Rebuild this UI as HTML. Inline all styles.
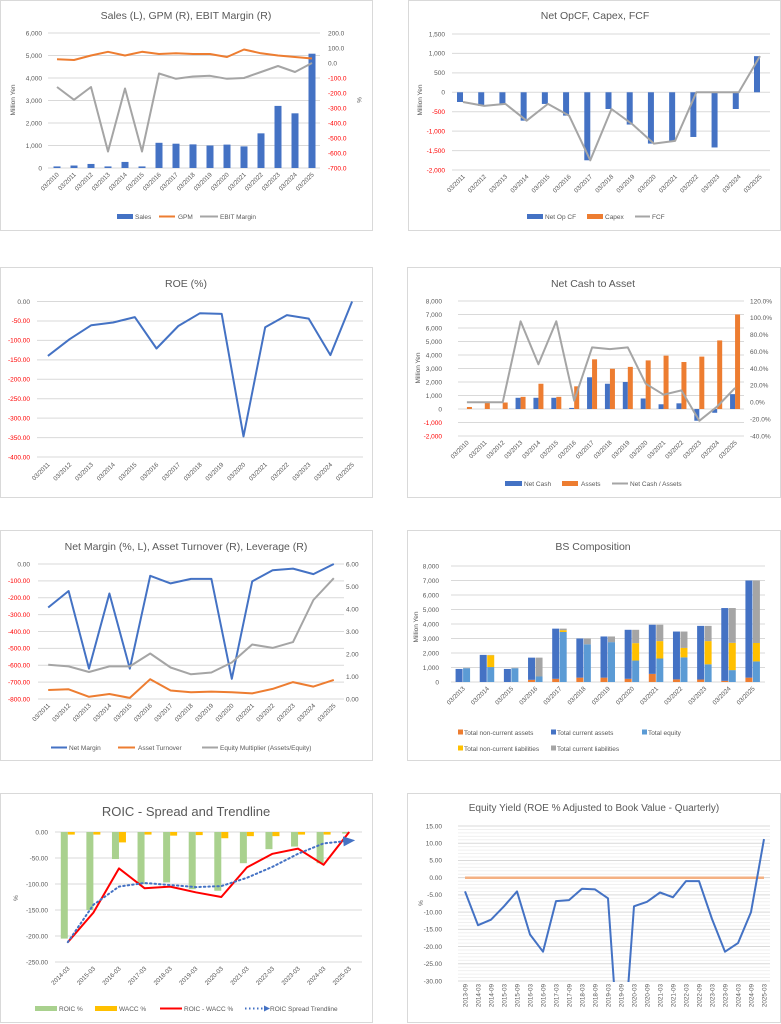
<!DOCTYPE html>
<html><head><meta charset="utf-8">
<style>
html,body{margin:0;padding:0;background:#fff;}
body{width:781px;height:1024px;overflow:hidden;font-family:"Liberation Sans",sans-serif;}
svg{display:block;}
svg text{font-family:"Liberation Sans",sans-serif;}
</style></head>
<body>
<svg id="charts" width="781" height="1024" viewBox="0 0 781 1024" xmlns="http://www.w3.org/2000/svg">
<defs>
<marker id="arrowhead" markerWidth="6" markerHeight="6" refX="3" refY="3" orient="auto" markerUnits="userSpaceOnUse" viewBox="0 0 6 6"><path d="M0,0 L6,3 L0,6 z" fill="#4472C4"/></marker>
<marker id="arrowhead2" markerWidth="12" markerHeight="10" refX="6" refY="5" orient="auto" markerUnits="userSpaceOnUse" viewBox="0 0 12 10"><path d="M0,0 L12,5 L0,10 z" fill="#4472C4"/></marker>
<clipPath id="eyclip"><rect x="455" y="824" width="320" height="158"/></clipPath>
</defs>
</svg>
<script>
// ---------- data ----------
const c1Cats=['03/2010','03/2011','03/2012','03/2013','03/2014','03/2015','03/2016','03/2017','03/2018','03/2019','03/2020','03/2021','03/2022','03/2023','03/2024','03/2025'];
const c1Sales=[70,110,180,70,270,70,1120,1080,1050,1000,1040,960,1540,2760,2430,5080];
const c1Gpm=[25,20,50,75,50,75,60,65,60,60,40,90,65,50,40,30];
const c1Ebit=[-160,-245,-160,-590,-170,-590,-70,-105,-90,-85,-105,-100,-60,-20,-60,0];
const c1LeftTicks=[0,1000,2000,3000,4000,5000,6000];
const c1RightTicks=[200,100,0,-100,-200,-300,-400,-500,-600,-700];

const c2Cats=['03/2011','03/2012','03/2013','03/2014','03/2015','03/2016','03/2017','03/2018','03/2019','03/2020','03/2021','03/2022','03/2023','03/2024','03/2025'];
const c2OpCF=[-250,-350,-300,-730,-300,-600,-1750,-430,-830,-1320,-1250,-1150,-1420,-430,930];
const c2Capex=[0,0,0,0,0,0,0,0,0,0,0,0,0,0,0];
const c2FCF=[-250,-350,-300,-730,-300,-600,-1750,-430,-830,-1320,-1250,0,0,0,930];
const c2Ticks=[1500,1000,500,0,-500,-1000,-1500,-2000];

const roeCats=['03/2011','03/2012','03/2013','03/2014','03/2015','03/2016','03/2017','03/2018','03/2019','03/2020','03/2021','03/2022','03/2023','03/2024','03/2025'];
const roeVals=[-140,-97,-61,-54,-40,-121,-63,-30,-32,-347,-66,-35,-44,-138,0];
const roeTicks=[0,-50,-100,-150,-200,-250,-300,-350,-400];

const ncCats=['03/2010','03/2011','03/2012','03/2013','03/2014','03/2015','03/2016','03/2017','03/2018','03/2019','03/2020','03/2021','03/2022','03/2023','03/2024','03/2025'];
const ncNetCash=[0,0,0,830,830,830,80,2350,1870,2000,780,350,420,-870,-280,1100];
const ncAssets=[150,450,480,900,1870,900,1680,3680,2980,3120,3600,3950,3480,3880,5080,7000];
const ncRatio=[0,0,0,96,45,96,2,65,63,65,22,9,14,-22,-5,17];
const ncLeftTicks=[8000,7000,6000,5000,4000,3000,2000,1000,0,-1000,-2000];
const ncRightTicks=[120,100,80,60,40,20,0,-20,-40];

const c5Cats=['03/2011','03/2012','03/2013','03/2014','03/2015','03/2016','03/2017','03/2018','03/2019','03/2020','03/2021','03/2022','03/2023','03/2024','03/2025'];
const c5NetMargin=[-258,-160,-620,-175,-620,-70,-115,-88,-88,-680,-103,-37,-27,-60,0];
const c5Turnover=[0.40,0.43,0.10,0.22,0.05,0.88,0.38,0.30,0.33,0.30,0.25,0.45,0.75,0.55,0.85];
const c5EqMult=[1.52,1.45,1.20,1.45,1.45,2.02,1.40,1.10,1.18,1.62,2.42,2.27,2.53,4.40,5.37];
const c5LeftTicks=[0,-100,-200,-300,-400,-500,-600,-700,-800];
const c5RightTicks=[6,5,4,3,2,1,0];

const bsCats=['03/2013','03/2014','03/2015','03/2016','03/2017','03/2018','03/2019','03/2020','03/2021','03/2022','03/2023','03/2024','03/2025'];
const bsNonCurAssets=[0,0,0,150,220,300,300,220,560,180,170,80,300];
const bsCurAssets=[900,1870,900,1530,3460,2700,2840,3380,3390,3300,3700,5020,6700];
const bsEquity=[950,1030,950,380,3450,2600,2750,1480,1620,1700,1220,820,1420];
const bsNonCurLiab=[0,820,0,0,120,0,0,1200,1200,650,1600,1880,1270];
const bsCurLiab=[30,20,30,1300,110,400,390,920,1130,1130,1050,2400,4310];
const bsTicks=[0,1000,2000,3000,4000,5000,6000,7000,8000];

const roicCats=['2014-03','2015-03','2016-03','2017-03','2018-03','2019-03','2020-03','2021-03','2022-03','2023-03','2024-03','2025-03'];
const roicVals=[-205,-150,-52,-100,-97,-110,-113,-60,-33,-28,-60,-3];
const waccVals=[-5,-5,-20,-5,-7,-6,-12,-8,-8,-5,-5,0];
const spreadVals=[-212,-155,-70,-108,-105,-116,-125,-68,-42,-32,-63,0];
const trendVals=[-212,-140,-105,-98,-102,-106,-104,-88,-67,-42,-22,-17];
const roicTicks=[0,-50,-100,-150,-200,-250];

const eyCats=['2013-09','2014-03','2014-09','2015-03','2015-09','2016-03','2016-09','2017-03','2017-09','2018-03','2018-09','2019-03','2019-09','2020-03','2020-09','2021-03','2021-09','2022-03','2022-09','2023-03','2023-09','2024-03','2024-09','2025-03'];
const eyVals=[-4,-13.8,-12.2,-8.3,-4,-16.5,-21.5,-6.8,-6.5,-3.2,-3.4,-6,-60,-8.3,-7,-4.3,-5.7,-1,-1,-12,-21.5,-19,-10,11.2];
const eyZero=[0,0,0,0,0,0,0,0,0,0,0,0,0,0,0,0,0,0,0,0,0,0,0,0];
const eyTicks=[15,10,5,0,-5,-10,-15,-20,-25,-30];

// ---------- helpers ----------
const NS='http://www.w3.org/2000/svg';
const svg=document.getElementById('charts');
const GRAY='#595959',GRID='#D9D9D9',BLUE='#4472C4',ORANGE='#ED7D31',LGRAY='#A5A5A5',YEL='#FFC000',LBLUE='#5B9BD5',GREEN='#A9D18E',RED='#FF0000';
function mk(tag,attrs,parent){const e=document.createElementNS(NS,tag);for(const k in attrs)e.setAttribute(k,attrs[k]);(parent||svg).appendChild(e);return e;}
function txt(x,y,s,attrs,parent){const e=mk('text',Object.assign({x:x,y:y,'font-size':6.5,fill:GRAY},attrs||{}),parent);e.textContent=s;return e;}
function lin(d0,d1,p0,p1){return v=>p0+(v-d0)*(p1-p0)/(d1-d0);}
function band(n,x0,x1){const w=(x1-x0)/n;const f=i=>x0+(i+0.5)*w;f.w=w;return f;}
function comma(v){const s=Math.abs(v).toString().replace(/\B(?=(\d{3})+(?!\d))/g,',');return (v<0?'-':'')+s;}
function group(name,parent){const g=mk('g',{},parent);return g;}
function panel(name,x,y,w,h,title,tx,ty,fs){
  const g=group(name);
  const r=mk('rect',{x:x+0.5,y:y+0.5,width:w,height:h,fill:'#fff',stroke:GRID,'stroke-width':1},g);
  
  
  const t=txt(tx,ty,title,{'font-size':fs,'text-anchor':'middle'},g);
  
  
  return g;
}
function grid(g,ticks,yf,x0,x1,color){
  ticks.forEach(v=>{const l=mk('line',{x1:x0,x2:x1,y1:yf(v),y2:yf(v),stroke:color||GRID,'stroke-width':1},g);
  
  });
}
function yLabels(g,ticks,yf,x,anchor,fmt,redNeg,name){
  ticks.forEach(v=>{const t=txt(x,yf(v)+2.3,fmt(v),{'text-anchor':anchor,fill:(redNeg&&v<0)?RED:GRAY},g);
  
  });
}
function catLabels(g,cats,xf,y,rot){
  cats.forEach((s,i)=>{const x=xf(i)+2.3;const t=txt(x,y,s,{'text-anchor':'end','font-size':6.3,transform:'rotate('+rot+' '+x+' '+y+')'},g);
  
  });
}
function axisTitle(g,x,y,s,rot){const t=txt(x,y,s,{'text-anchor':'middle',transform:'rotate('+rot+' '+x+' '+y+')'},g);
  
  return t;}
function bars(g,vals,xf,yf,off,w,color,name){
  vals.forEach((v,i)=>{const y0=yf(0),y1=yf(v);const r=mk('rect',{x:xf(i)+off,y:Math.min(y0,y1),width:w,height:Math.max(Math.abs(y1-y0),0),fill:color},g);
  
  });
}
function stack(g,series,colors,names,xf,yf,off,w){
  const n=series[0].length;
  for(let i=0;i<n;i++){let acc=0;series.forEach((s,k)=>{const y0=yf(acc),y1=yf(acc+s[i]);acc+=s[i];
    const r=mk('rect',{x:xf(i)+off,y:y1,width:w,height:Math.max(y0-y1,0),fill:colors[k]},g);
    
    });}
}
function line(g,vals,xf,yf,color,name,extra){
  const d=vals.map((v,i)=>(i?'L':'M')+xf(i).toFixed(1)+','+yf(v).toFixed(1)).join(' ');
  const p=mk('path',Object.assign({d:d,fill:'none',stroke:color,'stroke-width':2,'stroke-linejoin':'round'},extra||{}),g);
  
  return p;
}
function legend(g,items,y){
  items.forEach(it=>{const lg=mk('g',{},g);
    
    
    if(it.type==='box')mk('rect',{x:it.x,y:y-5,width:it.w,height:5,fill:it.c},lg);
    else if(it.type==='sq')mk('rect',{x:it.x,y:y-5.5,width:5,height:5,fill:it.c},lg);
    else if(it.type==='dot'){mk('line',{x1:it.x,x2:it.x+it.w,y1:y-2.5,y2:y-2.5,stroke:it.c,'stroke-width':2,'stroke-dasharray':'1.5,2.5','marker-end':'url(#arrowhead)'},lg);}
    else mk('line',{x1:it.x,x2:it.x+it.w,y1:y-2.5,y2:y-2.5,stroke:it.c,'stroke-width':2},lg);
    txt(it.tx,y,it.label,{},lg);});
}

// ---------- Chart 1 ----------
(function(){
  const g=panel('sales-gpm-ebit-chart',0,0,372,230,'Sales (L), GPM (R), EBIT Margin (R)',186,19,10.5);
  const X=band(c1Cats.length,48.5,320.5),yL=lin(0,6000,168,33),yR=lin(-700,200,168,33);
  grid(g,c1LeftTicks,yL,48,320);
  yLabels(g,c1LeftTicks,yL,42,'end',comma,false,'left-tick-label');
  yLabels(g,c1RightTicks,yR,328,'start',v=>v.toFixed(1),true,'right-tick-label');
  bars(g,c1Sales,X,yL,-3.5,7,BLUE,'sales-bar');
  line(g,c1Gpm,X,yR,ORANGE,'gpm-line');
  line(g,c1Ebit,X,yR,LGRAY,'ebit-margin-line');
  catLabels(g,c1Cats,X,175,-45);
  axisTitle(g,15,100,'Million Yen',-90);
  axisTitle(g,357,100,'%',90);
  legend(g,[{type:'box',x:117,w:16,c:BLUE,tx:135,label:'Sales'},{type:'line',x:159,w:16,c:ORANGE,tx:178,label:'GPM'},{type:'line',x:200,w:18,c:LGRAY,tx:220,label:'EBIT Margin'}],219);
})();

// ---------- Chart 2 ----------
(function(){
  const g=panel('cashflow-chart',408,0,372,230,'Net OpCF, Capex, FCF',595,19,10.5);
  const X=band(c2Cats.length,452.4,770.6),y=lin(-2000,1500,170,34);
  grid(g,c2Ticks,y,452,770);
  yLabels(g,c2Ticks,y,445,'end',comma,true,'y-tick-label');
  bars(g,c2OpCF,X,y,-6,6,BLUE,'net-op-cf-bar');
  bars(g,c2Capex,X,y,0,6,ORANGE,'capex-bar');
  line(g,c2FCF,X,y,LGRAY,'fcf-line');
  catLabels(g,c2Cats,X,177,-45);
  axisTitle(g,422,100,'Million Yen',-90);
  legend(g,[{type:'box',x:527,w:16,c:BLUE,tx:545,label:'Net Op CF'},{type:'box',x:587,w:16,c:ORANGE,tx:605,label:'Capex'},{type:'line',x:635,w:15,c:LGRAY,tx:652,label:'FCF'}],219);
})();

// ---------- ROE ----------
(function(){
  const g=panel('roe-chart',0,267,372,230,'ROE (%)',186,287,10.5);
  const X=band(roeCats.length,37,363),y=lin(-400,0,457,301.5);
  grid(g,roeTicks,y,37,363);
  yLabels(g,roeTicks,y,30,'end',v=>v.toFixed(2),true,'y-tick-label');
  line(g,roeVals,X,y,BLUE,'roe-line');
  catLabels(g,roeCats,X,465,-45);
})();

// ---------- Net cash ----------
(function(){
  const g=panel('net-cash-chart',407,267,373,230,'Net Cash to Asset',593,287,10.5);
  const X=band(ncCats.length,458,744),yL=lin(-2000,8000,436,301),yR=lin(-40,120,436,301);
  grid(g,ncLeftTicks,yL,458,744);
  yLabels(g,ncLeftTicks,yL,442,'end',comma,true,'left-tick-label');
  yLabels(g,ncRightTicks,yR,750,'start',v=>v.toFixed(1)+'%',false,'right-tick-label');
  bars(g,ncNetCash,X,yL,-5,5,BLUE,'net-cash-bar');
  bars(g,ncAssets,X,yL,0,5,ORANGE,'assets-bar');
  line(g,ncRatio,X,yR,LGRAY,'net-cash-ratio-line');
  catLabels(g,ncCats,X,443,-45);
  axisTitle(g,420,368,'Million Yen',-90);
  legend(g,[{type:'box',x:505,w:17,c:BLUE,tx:524,label:'Net Cash'},{type:'box',x:562,w:16,c:ORANGE,tx:581,label:'Assets'},{type:'line',x:612,w:16,c:LGRAY,tx:630,label:'Net Cash / Assets'}],486);
})();

// ---------- Net margin / turnover / leverage ----------
(function(){
  const g=panel('dupont-chart',0,530,372,230,'Net Margin (%, L), Asset Turnover (R), Leverage (R)',186,550,10.5);
  const X=band(c5Cats.length,38,344),yL=lin(-800,0,699,564),yR=lin(0,6,699,564);
  grid(g,c5LeftTicks,yL,38,344);
  yLabels(g,c5LeftTicks,yL,30,'end',v=>v.toFixed(2),true,'left-tick-label');
  yLabels(g,c5RightTicks,yR,346,'start',v=>v.toFixed(2),false,'right-tick-label');
  line(g,c5NetMargin,X,yL,BLUE,'net-margin-line');
  line(g,c5Turnover,X,yR,ORANGE,'asset-turnover-line');
  line(g,c5EqMult,X,yR,LGRAY,'equity-multiplier-line');
  catLabels(g,c5Cats,X,706,-45);
  legend(g,[{type:'line',x:51,w:16,c:BLUE,tx:69,label:'Net Margin'},{type:'line',x:118,w:17,c:ORANGE,tx:138,label:'Asset Turnover'},{type:'line',x:202,w:16,c:LGRAY,tx:220,label:'Equity Multiplier (Assets/Equity)'}],750);
})();

// ---------- BS composition ----------
(function(){
  const g=panel('bs-composition-chart',407,530,373,230,'BS Composition',593,550,10.5);
  const X=band(bsCats.length,451,765),y=lin(0,8000,682,566);
  grid(g,bsTicks,y,451,765);
  yLabels(g,bsTicks,y,439,'end',comma,false,'y-tick-label');
  stack(g,[bsNonCurAssets,bsCurAssets],[ORANGE,BLUE],['non-current-assets-bar','current-assets-bar'],X,y,-7.5,7);
  stack(g,[bsEquity,bsNonCurLiab,bsCurLiab],[LBLUE,YEL,LGRAY],['equity-bar','non-current-liabilities-bar','current-liabilities-bar'],X,y,0,7);
  catLabels(g,bsCats,X,689,-45);
  axisTitle(g,418,627,'Million Yen',-90);
  legend(g,[{type:'sq',x:458,c:ORANGE,tx:464,label:'Total non-current assets'},{type:'sq',x:551,c:BLUE,tx:557,label:'Total current assets'},{type:'sq',x:642,c:LBLUE,tx:648,label:'Total equity'}],735);
  legend(g,[{type:'sq',x:458,c:YEL,tx:464,label:'Total non-current liabilities'},{type:'sq',x:551,c:LGRAY,tx:557,label:'Total current liabilities'}],751);
})();

// ---------- ROIC ----------
(function(){
  const g=panel('roic-chart',0,793,372,229,'ROIC - Spread and Trendline',186,816,13);
  const X=band(roicCats.length,55,362),y=lin(-250,0,962,832);
  grid(g,roicTicks,y,55,362);
  yLabels(g,roicTicks,y,48,'end',v=>v.toFixed(2),false,'y-tick-label');
  bars(g,roicVals,X,y,-7,7,GREEN,'roic-bar');
  bars(g,waccVals,X,y,0,7,YEL,'wacc-bar');
  line(g,spreadVals,X,y,RED,'roic-wacc-spread-line');
  line(g,trendVals,X,y,BLUE,'roic-spread-trendline',{'stroke-dasharray':'1.5,3','stroke-linecap':'round','marker-end':'url(#arrowhead2)'});
  catLabels(g,roicCats,X,969,-45);
  axisTitle(g,18,898,'%',-90);
  legend(g,[{type:'box',x:35,w:22,c:GREEN,tx:59,label:'ROIC %'},{type:'box',x:95,w:22,c:YEL,tx:119,label:'WACC %'},{type:'line',x:160,w:22,c:RED,tx:184,label:'ROIC - WACC %'},{type:'dot',x:245,w:22,c:BLUE,tx:270,label:'ROIC Spread Trendline'}],1011);
})();

// ---------- Equity yield ----------
(function(){
  const g=panel('equity-yield-chart',407,793,373,229,'Equity Yield (ROE % Adjusted to Book Value - Quarterly)',594,811,10);
  const X=band(eyCats.length,458.5,770.5),y=lin(-30,15,981,826);
  const minor=[];for(let v=-30;v<=15;v+=1){if(v%5!==0)minor.push(v);}
  grid(g,minor,y,458,770,'#F0F0F0');
  grid(g,eyTicks,y,458,770);
  yLabels(g,eyTicks,y,442,'end',v=>v.toFixed(2),false,'y-tick-label');
  const cg=mk('g',{'clip-path':'url(#eyclip)'},g);
  
  
  line(cg,eyZero,X,y,'#F4B183','zero-line',{'stroke-width':2.5});
  line(cg,eyVals,X,y,BLUE,'equity-yield-line');
  catLabels(g,eyCats,X,984,-90);
  axisTitle(g,423,903,'%',-90);
})();
</script>
</body></html>
